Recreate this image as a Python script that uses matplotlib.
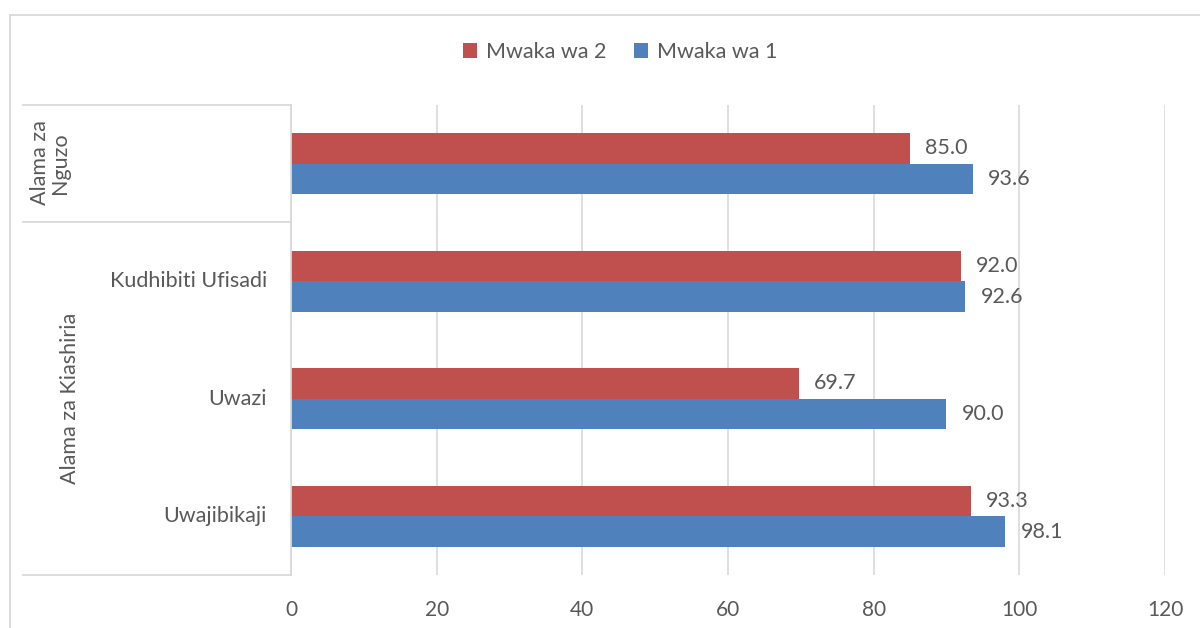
import matplotlib
matplotlib.use("Agg")
import matplotlib.pyplot as plt
from matplotlib.lines import Line2D
import numpy as np

plt.rcParams['font.family'] = ['Lato', 'DejaVu Sans']

categories = ["Alama za Nguzo", "Kudhibiti Ufisadi", "Uwazi", "Uwajibikaji"]
inner_labels = ["", "Kudhibiti Ufisadi", "Uwazi", "Uwajibikaji"]
year2 = [85.0, 92.0, 69.7, 93.3]
year1 = [93.6, 92.6, 90.0, 98.1]
series_names = ["Mwaka wa 2", "Mwaka wa 1"]
xticks = [0, 20, 40, 60, 80, 100, 120]

RED = "#C0504D"
BLUE = "#4F81BD"
TXT = "#595959"
GRID = "#D9D9D9"
FS = 15.5

W, H = 1200, 628
fig = plt.figure(figsize=(W / 100, H / 100), dpi=100)

def fx(px):
    return px / W

def fy(py):
    return 1 - py / H

x0, x1, ytop, ybot = 291, 1165, 105, 575
ax = fig.add_axes([fx(x0), fy(ybot), fx(x1) - fx(x0), fy(ytop) - fy(ybot)])

pos = np.arange(len(categories))
h = 0.26
ax.barh(pos - h / 2, year2, height=h, color=RED, label=series_names[0], zorder=3)
ax.barh(pos + h / 2, year1, height=h, color=BLUE, label=series_names[1], zorder=3)

for p, v in zip(pos, year2):
    ax.annotate(f"{v:.1f}", (v, p - h / 2), xytext=(11, 0), textcoords="offset points",
                va="center", ha="left", fontsize=FS, color=TXT)
for p, v in zip(pos, year1):
    ax.annotate(f"{v:.1f}", (v, p + h / 2), xytext=(11, 0), textcoords="offset points",
                va="center", ha="left", fontsize=FS, color=TXT)

ax.set_xlim(0, 120)
ax.set_ylim(3.5, -0.5)
ax.set_xticks(xticks)
ax.set_xticklabels([str(t) for t in xticks], fontsize=15, color=TXT)
ax.tick_params(axis='x', length=0, pad=18)
ax.set_yticks([])
for s in ax.spines.values():
    s.set_visible(False)
ax.grid(axis='x', color=GRID, linewidth=1.2, zorder=0)
ax.set_axisbelow(True)

# axis line and category table
lc = "#D9D9D9"
fig.add_artist(Line2D([fx(x0), fx(x0)], [fy(ytop), fy(ybot)], color=lc, lw=1.3))
for yy in [ytop, 222, ybot]:
    fig.add_artist(Line2D([fx(23), fx(x0)], [fy(yy), fy(yy)], color=lc, lw=1.3))

# inner labels
for p, lab in zip(pos, inner_labels):
    if lab:
        yd = ax.transData.transform((0, p))[1]
        fig.text(fx(267), yd / fig.dpi / fig.get_figheight(), lab, ha="right", va="center",
                 fontsize=FS, color=TXT)

# outer labels
fig.text(fx(50), fy(163), "Alama za\nNguzo", rotation=90, ha="center", va="center",
         fontsize=FS, color=TXT, linespacing=1.05, multialignment="center")
fig.text(fx(70), fy(398), "Alama za Kiashiria", rotation=90, ha="center", va="center",
         fontsize=FS, color=TXT)

# chart border
fig.add_artist(Line2D([fx(9.5), fx(9.5)], [fy(15), 0], color=lc, lw=1.3))
fig.add_artist(Line2D([fx(9.5), 1], [fy(15), fy(15)], color=lc, lw=1.3))

# legend
leg = fig.legend(loc="center", bbox_to_anchor=(fx(620), fy(52)), ncol=2, frameon=False,
                 fontsize=FS, handlelength=0.65, handleheight=0.65, handletextpad=0.4,
                 columnspacing=1.3)
for t in leg.get_texts():
    t.set_color(TXT)

fig.savefig("out.png", dpi=100)
